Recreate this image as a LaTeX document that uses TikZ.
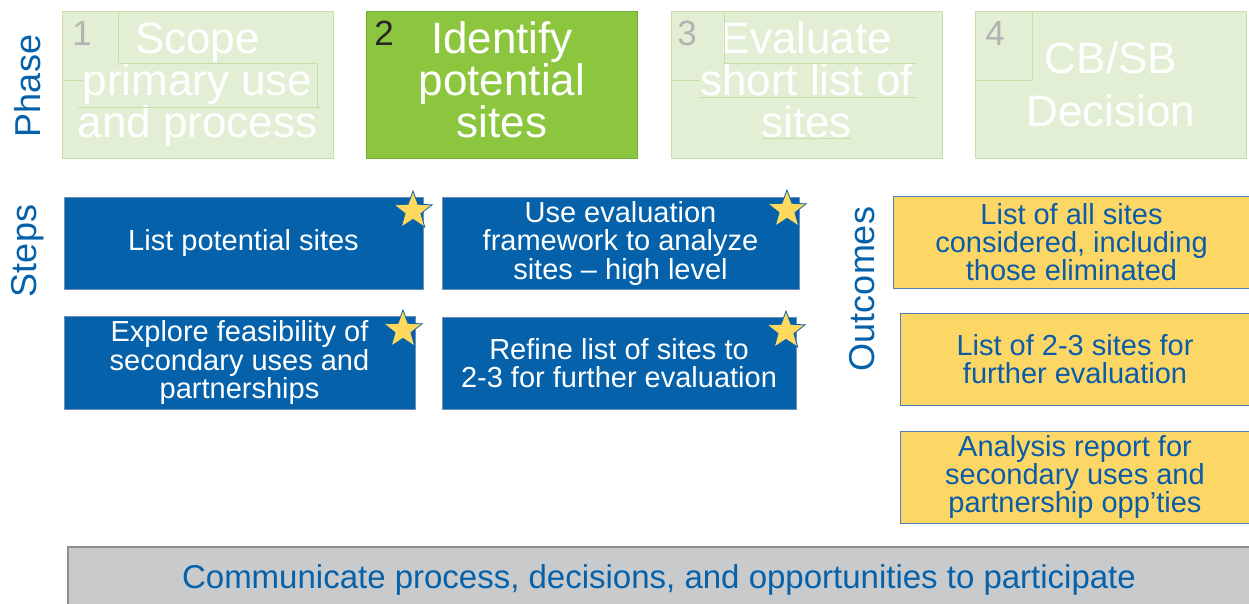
\documentclass[tikz,border=0pt]{standalone}
\usepackage{fontspec}
\setmainfont{Liberation Sans}
\usetikzlibrary{shapes.geometric}

\definecolor{stepblue}{HTML}{0562AA}
\definecolor{stepedge}{HTML}{6F8FB8}
\definecolor{paleleaf}{HTML}{E2EFD4}
\definecolor{paleedge}{HTML}{C5DFA8}
\definecolor{leaf}{HTML}{8CC63F}
\definecolor{leafedge}{HTML}{72AD30}
\definecolor{outyellow}{HTML}{FDD766}
\definecolor{outedge}{HTML}{4F7FB5}
\definecolor{outtext}{HTML}{0B5CA8}
\definecolor{commgray}{HTML}{C9CACC}
\definecolor{commedge}{HTML}{8E8E8E}
\definecolor{stargold}{HTML}{FFD85E}
\definecolor{numgray}{HTML}{B3B3B3}

\tikzset{
  phasebox/.style={draw=paleedge, fill=paleleaf, line width=1pt, inner sep=0pt, minimum width=271pt, minimum height=147pt, text=white, align=center, font=\fontsize{44}{42}\selectfont},
  phasenow/.style={phasebox, draw=leafedge, fill=leaf},
  phasenum/.style={text=numgray, font=\fontsize{35}{35}\selectfont, inner sep=0pt},
  stepbox/.style={draw=stepedge, fill=stepblue, line width=1pt, inner sep=0pt, minimum height=92pt, text=white, align=center, font=\fontsize{29}{28.5}\selectfont},
  outbox/.style={draw=outedge, fill=outyellow, line width=1pt, inner sep=0pt, minimum height=92pt, text=outtext, align=center, font=\fontsize{29}{28}\selectfont},
  sidelabel/.style={rotate=90, text=stepblue, font=\fontsize{36}{36}\selectfont, inner sep=0pt},
  keystar/.style={star, star points=5, star point ratio=2.4, minimum size=40pt, inner sep=0pt, fill=stargold, draw=stepblue, line width=0.8pt},
  ghost/.style={draw=paleedge, line width=0.8pt}
}

\begin{document}
\begin{tikzpicture}[x=1pt,y=-1pt]
\useasboundingbox (0,0) rectangle (1249,603);

\node[sidelabel] (phase) at (28,86) {Phase};
\node[sidelabel] (steps) at (28,251) {Steps};
\node[sidelabel] (outcomes) at (862,289) {Outcomes};

\node[phasebox] (ph1) at (197.5,84.5) {Scope\\primary use\\and process};
\node[phasenow] (ph2) at (502,84.5) {Identify\\potential\\sites\vphantom{p}};
\node[phasebox] (ph3) at (806.5,84.5) {Evaluate\\short list of\\sites\vphantom{p}};
\node[phasebox, font=\fontsize{44}{53}\selectfont] (ph4) at (1111,84.5) {CB/SB\\Decision};

\draw[ghost] (118,11) -- (118,63) -- (317,63) -- (317,107);
\draw[ghost] (62,80) -- (83,80);
\draw[ghost] (78,107) -- (321,107);
\draw[ghost] (724,11) -- (724,63) -- (916,63);
\draw[ghost] (671,80) -- (700,80);
\draw[ghost] (700,97) -- (916,97);
\draw[ghost] (763,138) -- (851,138);
\draw[ghost] (1032,11) -- (1032,80) -- (975,80);

\node[phasenum] (n1) at (82,33) {1};
\node[phasenum, text=black!85] (n2) at (384,33) {2};
\node[phasenum] (n3) at (687,33) {3};
\node[phasenum] (n4) at (995,33) {4};

\node[stepbox, minimum width=359pt] (list) at (243.5,243) {List potential sites};
\node[stepbox, minimum width=351pt, minimum height=93pt] (explore) at (239.5,362.5) {Explore feasibility of\\secondary uses and\\partnerships};
\node[stepbox, minimum width=357pt] (frame) at (620.5,243) {Use evaluation\\framework to analyze\\sites -- high level};
\node[stepbox, minimum width=354pt] (refine) at (619,363) {Refine list of sites to\\2-3 for further evaluation};

\node[keystar] (starlist) at (413,211) {};
\node[keystar] (starexplore) at (403,330) {};
\node[keystar] (starframe) at (787,210) {};
\node[keystar] (starrefine) at (786,331) {};

\node[outbox, minimum width=357pt] (allsites) at (1071.5,242) {List of all sites\\considered, including\\those eliminated};
\node[outbox, minimum width=350pt] (shortlist) at (1075,359) {List of 2-3 sites for\\further evaluation};
\node[outbox, minimum width=350pt] (report) at (1075,477) {Analysis report for\\secondary uses and\\partnership opp'ties};

\node[draw=commedge, fill=commgray, line width=2pt, minimum width=1182pt, minimum height=66pt, text=stepblue, font=\fontsize{33}{33}\selectfont] (comm) at (659,580) {Communicate process, decisions, and opportunities to participate};
\end{tikzpicture}
\end{document}
